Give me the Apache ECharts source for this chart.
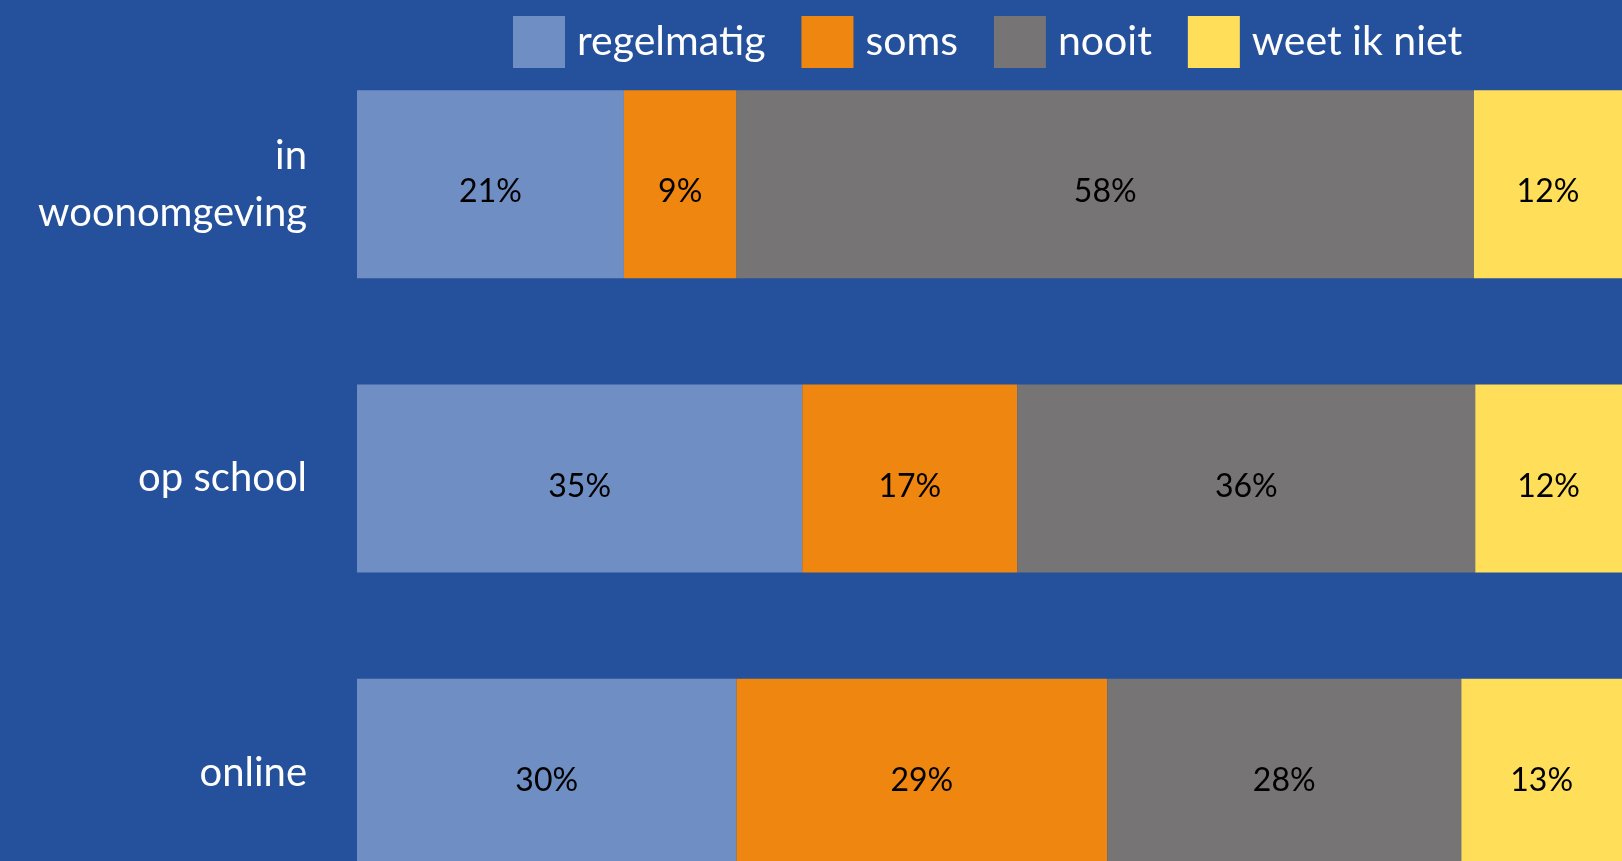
<!DOCTYPE html>
<html>
<head>
<meta charset="utf-8">
<title>regelmatig / soms / nooit</title>
<script src="https://cdn.jsdelivr.net/npm/echarts@6/dist/echarts.min.js"></script>
<style>
  html, body { margin: 0; padding: 0; background: #25509b; }
  #chart { width: 1622px; height: 861px; }
</style>
</head>
<body>
<div id="chart"></div>
<script>
// categorieën (van boven naar beneden)
const categories = ['in\nwoonomgeving', 'op school', 'online']

// aandelen in procenten per antwoord
const regelmatig = [21.1, 35.2, 30.0]
const soms = [8.9, 17.0, 29.3]
const nooit = [58.3, 36.2, 28.0]
const weetIkNiet = [11.7, 11.6, 12.7]

const seriesNames = ['regelmatig', 'soms', 'nooit', 'weet ik niet']
const seriesData = [regelmatig, soms, nooit, weetIkNiet]
const colors = ['#6f8ec4', '#ef8610', '#767474', '#ffde59']

const FONT = 'Lato, "Open Sans", sans-serif'

const chart = echarts.init(document.getElementById('chart'))

const option = {
  backgroundColor: '#25509b',
  animation: false,
  color: colors,
  legend: {
    data: seriesNames,
    left: 508,
    top: 11,
    icon: 'rect',
    itemWidth: 52,
    itemHeight: 52,
    itemGap: 36,
    textStyle: {
      color: '#ffffff',
      fontSize: 41,
      fontFamily: FONT,
      padding: [0, 0, 0, 7]
    }
  },
  grid: {
    left: 357,
    right: 0,
    top: 37,
    height: 883, // laatste balk loopt onder de rand door
    outerBoundsMode: 'none',
    containLabel: false
  },
  xAxis: {
    type: 'value',
    min: 0,
    max: 100,
    show: false
  },
  yAxis: {
    type: 'category',
    inverse: true,
    data: categories,
    axisLine: { show: false },
    axisTick: { show: false },
    splitLine: { show: false },
    axisLabel: {
      color: '#ffffff',
      fontSize: 40,
      fontFamily: FONT,
      lineHeight: 57,
      margin: 50,
      align: 'right'
    }
  },
  series: seriesNames.map((name, i) => ({
    name: name,
    type: 'bar',
    stack: 'totaal',
    barWidth: 188,
    data: seriesData[i],
    itemStyle: { color: colors[i] },
    label: {
      show: true,
      position: 'inside',
      offset: [0, 8],
      color: '#000000',
      fontSize: 32,
      fontFamily: FONT,
      formatter: p => Math.round(p.value) + '%'
    }
  }))
}

chart.setOption(option)
</script>
</body>
</html>
